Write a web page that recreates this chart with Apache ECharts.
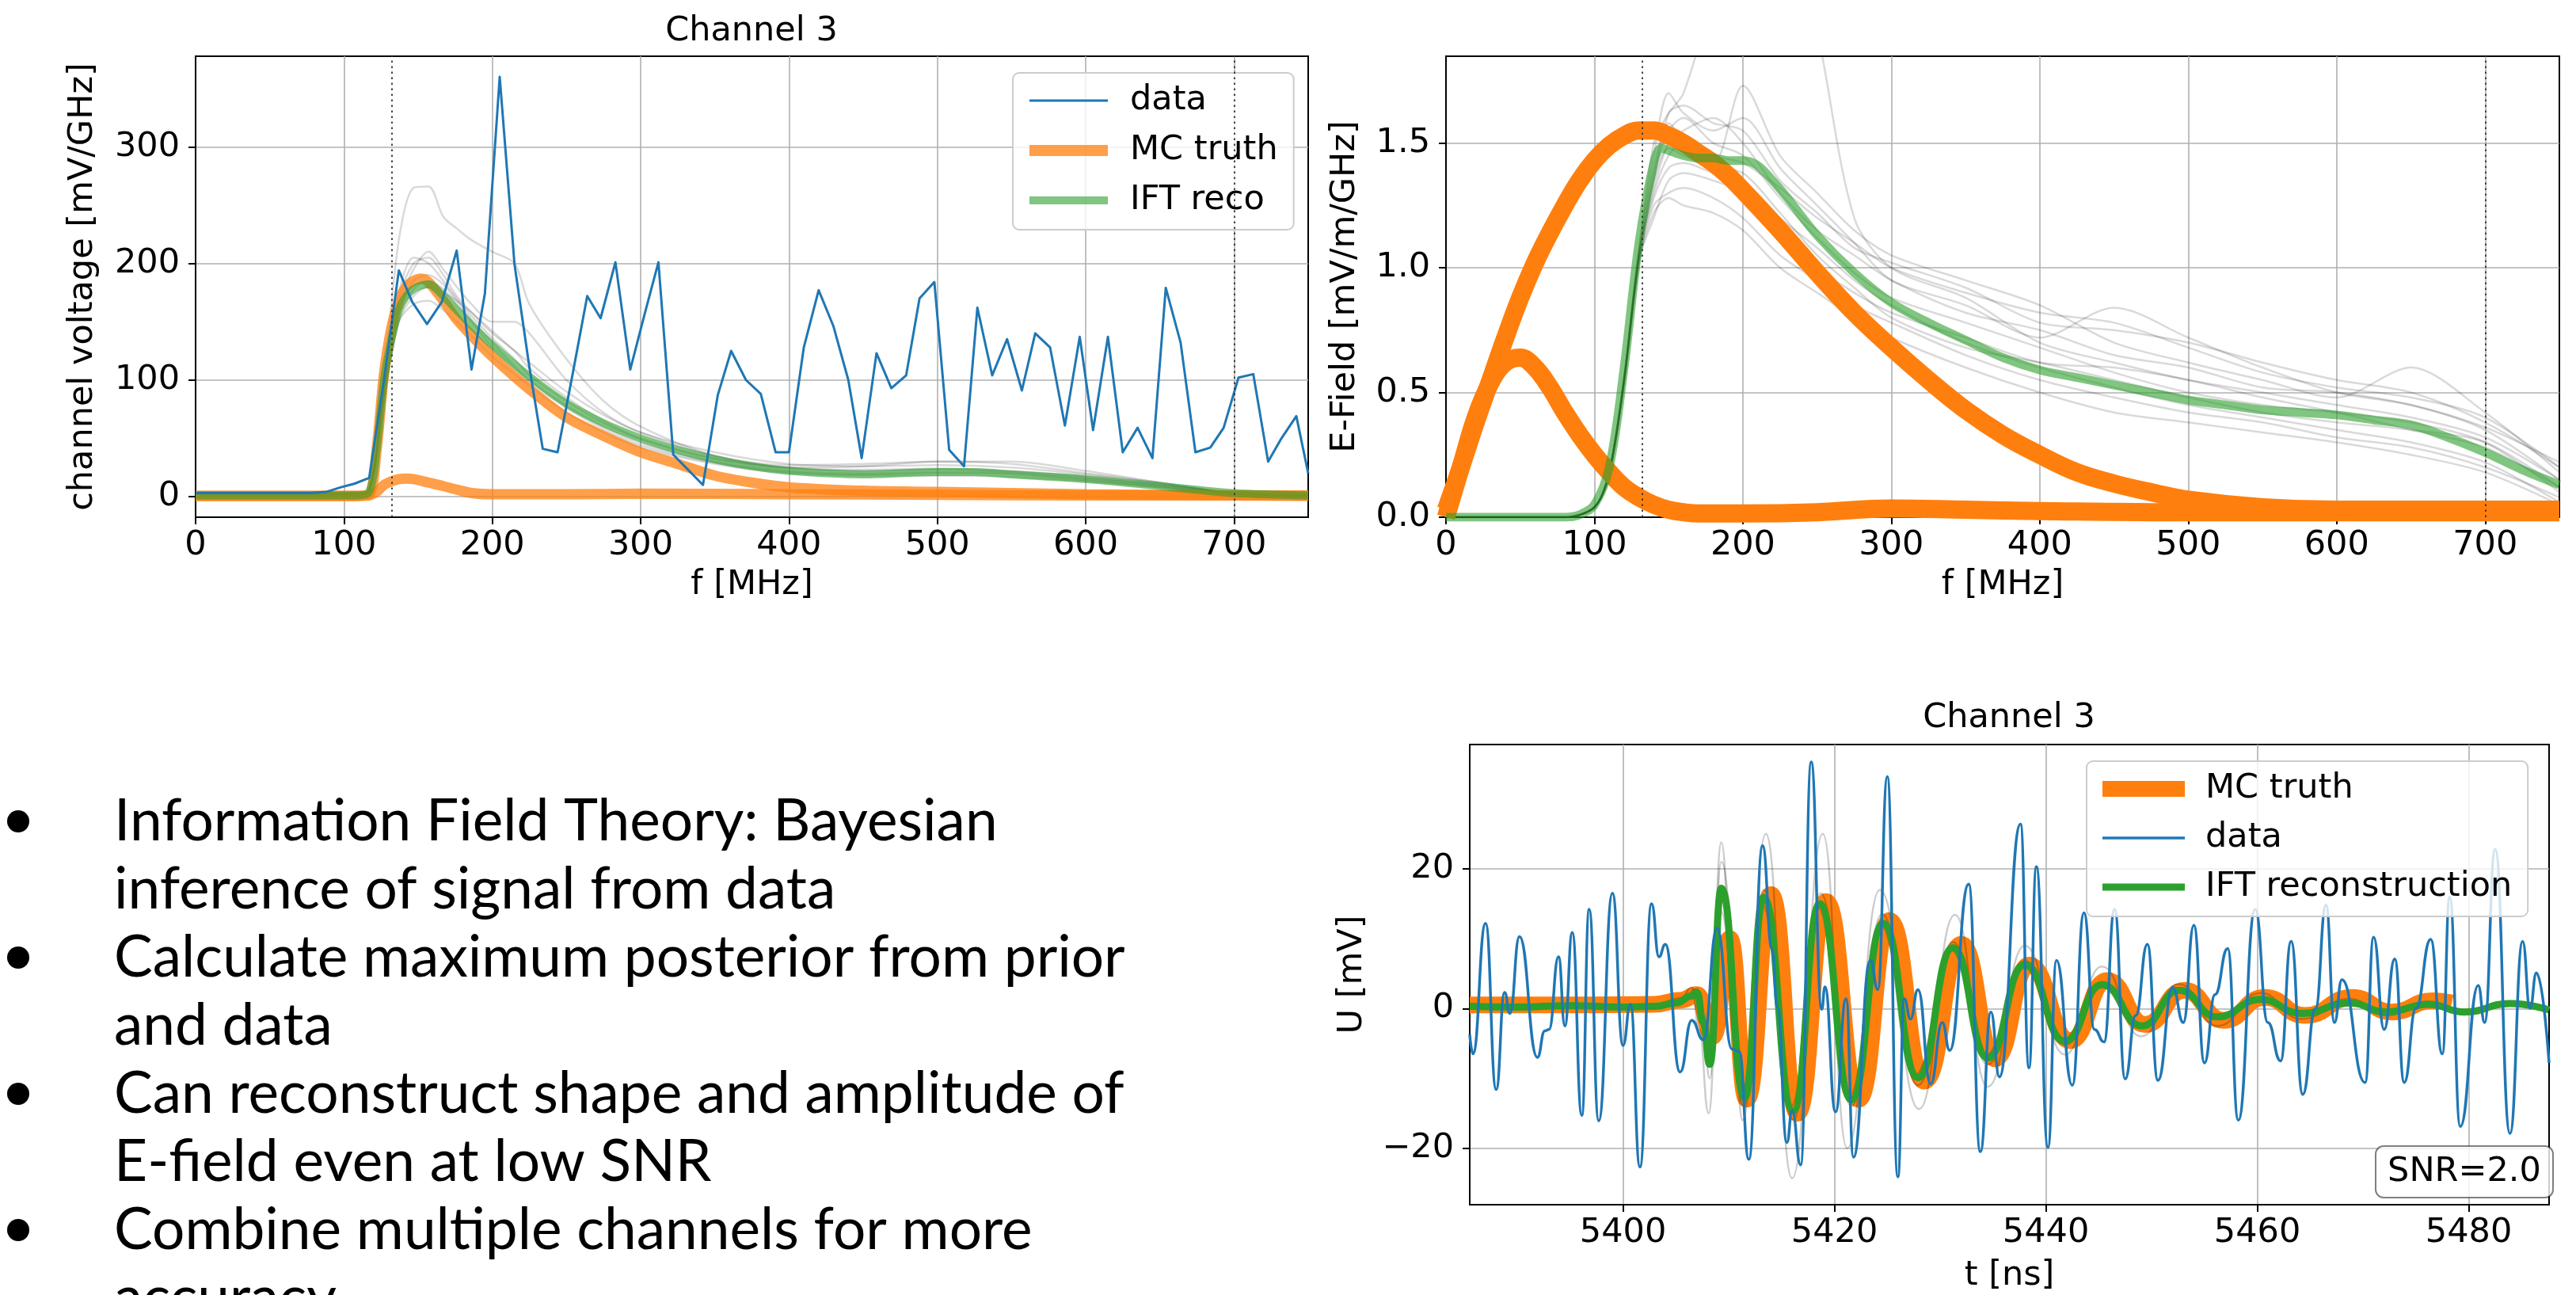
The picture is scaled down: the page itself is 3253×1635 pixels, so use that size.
<!DOCTYPE html>
<html>
<head>
<meta charset="utf-8">
<title>IFT reconstruction – Channel 3</title>
<script src="https://cdn.jsdelivr.net/npm/echarts@6/dist/echarts.min.js"></script>
<style>
  html, body { margin: 0; padding: 0; background: #ffffff; }
  #chart { width: 3253px; height: 1635px; }
</style>
</head>
<body>
<div id="chart"></div>
<script>
// ---------- frequency spectrum, channel voltage (top left) ----------
const fTicks = [0, 100, 200, 300, 400, 500, 600, 700];
const cutoffs = [132, 700];

const voltageTicks = [0, 100, 200, 300];
const spectrumF = [0, 10, 20, 29, 39, 49, 59, 68, 78, 88, 98, 107, 117, 127, 137, 146, 156, 166, 176, 186, 195, 205,
  215, 225, 234, 244, 254, 264, 273, 283, 293, 303, 312, 322, 332, 342, 352, 361, 371, 381, 391, 400, 410, 420, 430,
  440, 449, 459, 469, 479, 488, 498, 508, 518, 527, 537, 547, 557, 566, 576, 586, 596, 605, 615, 625, 635, 645, 654,
  664, 674, 684, 693, 703, 713, 723, 732, 742, 750];
const spectrumV = [3, 3, 3, 3, 3, 3, 3, 3, 3, 4, 8, 11, 16, 100, 194, 167, 148, 167, 211, 109, 174, 360,
  199, 111, 41, 38, 104, 172, 153, 201, 109, 158, 201, 36, 23, 10, 87, 125, 100, 88, 38, 38, 128, 177, 146,
  100, 33, 123, 93, 104, 170, 184, 40, 26, 162, 104, 135, 91, 140, 128, 61, 137, 57, 137, 38, 59, 33, 179,
  132, 38, 42, 59, 102, 105, 30, 50, 69, 20];

const voltTruthF = [0, 107, 117, 122, 127, 132, 137, 142, 147, 152, 157, 167, 176, 186, 200, 225, 250, 275, 300, 325,
  350, 375, 400, 450, 500, 600, 700, 750];
const voltTruthV = [0.7, 0.7, 2, 40, 105, 145, 168, 180, 185, 187, 184, 168, 152, 138, 120, 92, 68, 52, 38, 28,
  18, 12, 8, 5, 4, 2, 1, 0.5];
const voltTruthLowF = [0, 107, 117, 122, 127, 132, 137, 142, 147, 157, 167, 176, 186, 200, 250, 300, 400, 500, 600, 700, 750];
const voltTruthLowV = [0.5, 0.5, 1, 4, 10, 13, 15, 15.5, 15, 12, 9, 6, 3, 2, 2, 2.5, 2, 1.5, 1, 1, 1];

const voltRecoF = [0, 107, 117, 122, 127, 132, 137, 142, 147, 152, 157, 167, 176, 186, 200, 225, 250, 275, 300, 325,
  350, 375, 400, 450, 500, 525, 550, 600, 650, 700, 750];
const voltRecoV = [1, 1, 4, 40, 100, 135, 160, 172, 178, 181, 182, 172, 160, 147, 130, 103, 80, 63, 50, 40,
  32, 26, 22, 19, 21, 21, 19, 15, 9, 3, 1];

// posterior samples of the channel voltage spectrum
const voltSampleF = [0, 107, 117, 127, 137, 147, 157, 167, 176, 186, 200, 215, 225, 250, 275, 300, 350, 400, 450, 500, 550, 600, 650, 700, 750];
const voltSample1 = [2, 2, 5, 100, 220, 265, 266, 240, 230, 220, 210, 200, 165, 118, 82, 60, 35, 25, 26, 30, 30, 22, 12, 3, 1];
const voltSample2 = [2, 2, 5, 92, 170, 200, 205, 190, 172, 158, 140, 125, 110, 85, 65, 50, 33, 25, 23, 24, 22, 17, 10, 3, 1];
const voltSample3 = [2, 2, 5, 85, 150, 165, 168, 160, 150, 138, 120, 105, 95, 72, 55, 42, 28, 20, 18, 18, 17, 13, 8, 2, 1];
const voltSample4 = [2, 2, 5, 92, 165, 195, 210, 195, 180, 165, 150, 150, 140, 100, 72, 55, 35, 27, 28, 30, 28, 20, 12, 3, 1];
const voltSample5 = [2, 2, 5, 90, 160, 185, 190, 182, 168, 152, 132, 112, 100, 78, 60, 46, 30, 22, 20, 21, 20, 15, 9, 2, 1];
const voltSample6 = [2, 2, 5, 88, 155, 178, 185, 178, 165, 150, 128, 110, 98, 76, 58, 44, 29, 21, 19, 20, 19, 14, 8, 2, 1];
const voltSample7 = [2, 2, 5, 95, 175, 205, 200, 185, 170, 155, 136, 118, 104, 82, 63, 49, 32, 24, 22, 23, 21, 16, 10, 3, 1];
const voltSample8 = [2, 2, 5, 85, 150, 172, 180, 175, 168, 158, 142, 125, 115, 90, 70, 55, 38, 28, 26, 27, 25, 19, 11, 3, 1];

// ---------- E-field spectrum (top right) ----------
const efieldTicks = [0, 0.5, 1.0, 1.5];
const efTruthF = [0, 10, 20, 30, 40, 50, 60, 70, 80, 90, 100, 110, 120, 130, 140, 150, 160, 170, 180, 190, 200, 225,
  250, 275, 300, 325, 350, 375, 400, 425, 450, 475, 500, 550, 600, 650, 700, 750];
const efTruthV = [0.03, 0.2, 0.38, 0.55, 0.72, 0.88, 1.02, 1.14, 1.25, 1.35, 1.43, 1.49, 1.53, 1.55, 1.55, 1.53, 1.5,
  1.46, 1.42, 1.37, 1.31, 1.15, 0.98, 0.82, 0.68, 0.55, 0.43, 0.33, 0.25, 0.18, 0.135, 0.1, 0.07, 0.04, 0.03, 0.03, 0.03, 0.03];
const efTruthLowF = [0, 10, 20, 30, 40, 50, 60, 70, 80, 90, 100, 110, 120, 130, 140, 150, 160, 170, 180, 200, 250, 300,
  350, 400, 500, 600, 700, 750];
const efTruthLowV = [0, 0.2, 0.4, 0.54, 0.62, 0.64, 0.6, 0.52, 0.42, 0.33, 0.25, 0.18, 0.12, 0.08, 0.05, 0.03, 0.02,
  0.015, 0.015, 0.015, 0.02, 0.035, 0.03, 0.025, 0.02, 0.02, 0.02, 0.02];
const efRecoF = [0, 80, 90, 100, 110, 120, 130, 140, 145, 150, 160, 170, 180, 190, 200, 210, 220, 230, 250, 275, 300,
  325, 350, 375, 400, 425, 450, 475, 500, 525, 550, 575, 600, 625, 650, 675, 700, 725, 750];
const efRecoV = [0, 0, 0.01, 0.05, 0.2, 0.6, 1.1, 1.42, 1.48, 1.47, 1.45, 1.44, 1.44, 1.43, 1.43, 1.41, 1.35, 1.28,
  1.13, 0.98, 0.86, 0.78, 0.71, 0.64, 0.59, 0.56, 0.53, 0.5, 0.47, 0.45, 0.43, 0.42, 0.41, 0.39, 0.37, 0.32, 0.26, 0.19, 0.13];

// posterior samples of the E-field spectrum
const efSampleF = [0, 80, 100, 110, 120, 130, 140, 150, 160, 180, 200, 225, 250, 275, 300, 350, 400, 450, 500, 550, 600, 650, 700, 750];
const efSample1 = [0, 0, 0.04, 0.18, 0.55, 1.05, 1.35, 1.62, 1.65, 1.58, 1.55, 1.35, 1.22, 1.08, 1.02, 0.92, 0.78, 0.75, 0.70, 0.62, 0.55, 0.50, 0.38, 0.20];
const efSample2 = [0, 0, 0.04, 0.18, 0.56, 1.08, 1.45, 1.70, 1.62, 1.55, 1.60, 1.40, 1.25, 1.10, 0.95, 0.85, 0.72, 0.84, 0.72, 0.60, 0.50, 0.45, 0.35, 0.15];
const efSample3 = [0, 0, 0.04, 0.17, 0.54, 1.02, 1.25, 1.30, 1.32, 1.28, 1.20, 1.05, 0.95, 0.85, 0.78, 0.65, 0.55, 0.48, 0.42, 0.38, 0.32, 0.28, 0.20, 0.08];
const efSample4 = [0, 0, 0.04, 0.18, 0.55, 1.05, 1.30, 1.45, 1.50, 1.42, 1.73, 1.45, 1.30, 1.15, 1.05, 0.95, 0.85, 0.70, 0.62, 0.55, 0.48, 0.60, 0.42, 0.18];
const efSample5 = [0, 0, 0.04, 0.18, 0.55, 1.03, 1.20, 1.35, 1.38, 1.35, 1.30, 1.15, 1.00, 0.90, 0.82, 0.72, 0.62, 0.60, 0.55, 0.48, 0.42, 0.35, 0.28, 0.12];
const efSample6 = [0, 0, 0.04, 0.18, 0.55, 1.05, 1.38, 1.55, 1.60, 1.50, 1.45, 1.28, 1.12, 0.98, 0.88, 0.78, 0.68, 0.58, 0.50, 0.45, 0.42, 0.38, 0.30, 0.10];
const efSample7 = [0, 0, 0.04, 0.18, 0.55, 1.04, 1.28, 1.40, 1.42, 1.38, 1.35, 1.20, 1.08, 0.95, 0.85, 0.70, 0.60, 0.52, 0.45, 0.40, 0.35, 0.30, 0.22, 0.06];
const efSample8 = [0, 0, 0.04, 0.18, 0.56, 1.06, 1.50, 1.62, 1.70, 2.10, 2.60, 2.50, 1.95, 1.20, 1.00, 0.88, 0.70, 0.62, 0.55, 0.50, 0.45, 0.40, 0.32, 0.15];
const efSample9 = [0, 0, 0.04, 0.18, 0.55, 1.05, 1.32, 1.50, 1.55, 1.60, 1.50, 1.30, 1.15, 1.05, 0.95, 0.82, 0.75, 0.65, 0.60, 0.52, 0.50, 0.45, 0.36, 0.22];
const efSample10 = [0, 0, 0.04, 0.17, 0.54, 1.02, 1.22, 1.28, 1.25, 1.22, 1.15, 1.00, 0.90, 0.80, 0.72, 0.60, 0.50, 0.42, 0.38, 0.34, 0.30, 0.25, 0.18, 0.05];
const efSample11 = [0, 0, 0.04, 0.18, 0.56, 1.07, 1.40, 1.58, 1.52, 1.45, 1.42, 1.32, 1.20, 1.10, 1.00, 0.90, 0.82, 0.78, 0.68, 0.58, 0.52, 0.48, 0.40, 0.20];
const efSample12 = [0, 0, 0.04, 0.18, 0.55, 1.05, 1.35, 1.48, 1.45, 1.40, 1.38, 1.22, 1.05, 0.92, 0.80, 0.68, 0.62, 0.55, 0.48, 0.42, 0.38, 0.35, 0.30, 0.12];

// ---------- time trace (bottom right), [t ns, U mV] ----------
const tTicks = [5400, 5420, 5440, 5460, 5480];
const uTicks = [-20, 0, 20];
const traceData = [[5385.5, -3.7], [5385.8, -6.5], [5387.0, 12.2], [5388.0, -11.6], [5388.8, 2.3], [5389.3, -0.7],
  [5390.2, 10.3], [5391.9, -7.0], [5392.6, -3.2], [5393.0, -3.0], [5393.9, 7.4], [5394.5, -2.5], [5395.2, 10.9],
  [5396.1, -15.3], [5396.8, 14.2], [5397.7, -16.1], [5399.0, 16.5], [5400.0, -5.3], [5400.7, 0.6], [5401.6, -22.7],
  [5402.7, 15.0], [5403.4, 7.4], [5404.0, 9.2], [5405.4, -9.1], [5406.5, -1.7], [5407.6, -4.5], [5408.9, 11.5],
  [5410.3, -5.8], [5411.0, -6.2], [5411.9, -21.6], [5413.2, 23.3], [5414.1, 8.5], [5414.6, 0.1], [5415.5, -19.2],
  [5416.0, -14.6], [5416.8, -22.4], [5417.8, 35.3], [5418.8, -0.1], [5419.1, 3.1], [5420.1, -14.8], [5421.1, 1.4],
  [5421.8, -21.3], [5423.4, 6.9], [5424.1, 2.7], [5425.0, 33.2], [5426.0, -24.1], [5426.6, 1.4], [5427.2, -1.5],
  [5427.9, 2.7], [5429.1, -10.8], [5430.2, -2.0], [5430.9, -6.0], [5432.7, 17.8], [5433.8, -20.5], [5434.8, -0.5],
  [5435.6, -9.8], [5437.6, 26.4], [5438.4, -8.5], [5439.1, 20.3], [5440.2, -19.9], [5441.0, 6.9], [5442.5, -11.0],
  [5443.6, 13.7], [5444.6, -3.0], [5445.5, -4.8], [5446.5, 14.2], [5447.5, -10.1], [5448.5, -1.0], [5449.6, 9.2],
  [5450.6, -10.3], [5452.0, 3.0], [5453.0, -2.0], [5454.0, 11.9], [5455.0, -7.8], [5456.0, 2.0], [5457.2, 8.6],
  [5458.2, -16.0], [5459.8, 14.2], [5461.0, -2.0], [5462.2, -7.5], [5463.2, 9.6], [5464.3, -12.3], [5465.5, 0.0],
  [5466.5, 14.8], [5467.3, -2.0], [5468.0, 4.1], [5470.2, -10.6], [5471.0, 10.2], [5472.0, -3.0], [5473.0, 7.1],
  [5473.9, -10.6], [5475.0, 0.0], [5476.4, 9.9], [5477.5, -6.5], [5478.2, 16.0], [5479.2, -16.9], [5480.9, 3.3],
  [5481.5, -2.0], [5482.5, 22.8], [5483.9, -17.9], [5485.1, 9.6], [5485.8, 0.0], [5486.4, 5.1], [5487.6, -7.8]];

const traceTruth = [[5385.5, 0.5], [5395, 0.5], [5403, 0.6], [5405.5, 1.2], [5407, 2], [5408.5, -4], [5410.1, 10],
  [5411.7, -13], [5414.0, 16.3], [5416.5, -15], [5419.2, 15.3], [5422.3, -13], [5425.2, 12.6], [5428.5, -10.4],
  [5432.0, 9.2], [5435.2, -7.2], [5438.4, 6.2], [5442.3, -4.6], [5445.8, 4.0], [5449.4, -2.3], [5453.1, 2.6],
  [5456.8, -1.7], [5460.7, 1.6], [5464.5, -1.0], [5469.0, 1.6], [5472.7, -0.5], [5476.6, 1.1], [5478.4, 0.8]];

const traceReco = [[5385.5, 0.3], [5390, 0.2], [5395, 0.4], [5400, 0.2], [5403, 0.3], [5405, 0.8], [5406.5, 1.8],
  [5407.0, 2.3], [5407.6, -2], [5408.2, -8], [5409.3, 17.2], [5411.5, -12.8], [5413.3, 15.9], [5416.1, -14.7],
  [5418.6, 15.0], [5421.6, -13.1], [5424.6, 12.2], [5427.9, -9.9], [5431.2, 8.7], [5434.5, -7.1], [5438.0, 6.3],
  [5441.8, -4.7], [5445.3, 3.4], [5449.1, -2.5], [5452.6, 2.6], [5456.2, -1.2], [5460.3, 1.3], [5464.2, -0.7],
  [5468.7, 0.8], [5472.2, -0.5], [5476.2, 0.6], [5479.6, -0.5], [5483.9, 0.7], [5487.6, -0.2]];

// posterior samples of the time trace
const traceSample1 = [[5385.5, 0.3], [5403, 0.5], [5405.5, 1.5], [5406.5, 3], [5407.2, -3], [5408.1, -15], [5409.3, 23.8],
  [5410.5, -4], [5411.3, -16], [5413.5, 25], [5416.0, -24.3], [5418.9, 25], [5421.2, -20], [5424.3, 17], [5428, -14.4],
  [5431.4, 13.4], [5434.5, -11.2], [5438, 9], [5441.8, -6.6], [5445.3, 6], [5449, -4], [5452.6, 3.5], [5456.2, -2.5],
  [5460.3, 2.2], [5464.2, -1.5], [5468.7, 1.4], [5472.2, -1], [5476.2, 1], [5479.6, -0.7], [5483.9, 0.8], [5487.6, -0.3]];
const traceSample2 = [[5385.5, 0.3], [5403, 0.4], [5405.5, 1.2], [5407, 2.8], [5407.6, -3], [5408.2, -10], [5409.3, 21],
  [5411.4, -14], [5413.3, 17], [5416.1, -16], [5418.7, 16.5], [5421.6, -14], [5424.5, 13.5], [5427.9, -11], [5431.2, 9.5],
  [5434.5, -8], [5438.0, 6.8], [5441.8, -5.2], [5445.3, 3.8], [5449.1, -2.8], [5452.6, 2.8], [5456.2, -1.4], [5460.3, 1.4],
  [5464.2, -0.8], [5468.7, 0.9], [5472.2, -0.6], [5476.2, 0.7], [5479.6, -0.5], [5483.9, 0.7], [5487.6, -0.2]];
const traceSample3 = [[5385.5, 0.2], [5403, 0.3], [5405.5, 0.8], [5407, 2], [5407.6, -1], [5408.2, -6], [5409.2, 14],
  [5411.3, -12], [5413.1, 15], [5415.9, -14], [5418.4, 14.5], [5421.4, -12.5], [5424.3, 12], [5427.6, -9.5], [5431.0, 8.4],
  [5434.2, -6.8], [5437.8, 6], [5441.5, -4.5], [5445.0, 3.2], [5448.8, -2.4], [5452.4, 2.4], [5456.0, -1.1], [5460.0, 1.2],
  [5464.0, -0.7], [5468.5, 0.7], [5472.0, -0.5], [5476.0, 0.6], [5479.4, -0.5], [5483.6, 0.6], [5487.6, -0.2]];

const bullets = [
  ['Information Field Theory: Bayesian', 'inference of signal from data'],
  ['Calculate maximum posterior from prior', 'and data'],
  ['Can reconstruct shape and amplitude of', 'E-field even at low SNR'],
  ['Combine multiple channels for more', 'accuracy']
];

// ---------- styling ----------
const FONT = 'DejaVu Sans';
const FS = 43;
const BLUE = '#1f77b4', ORANGE = '#ff7f0e', GREEN = '#2ca02c';
const SAMPLE = 'rgba(0,0,0,0.15)';

function zip(xs, ys) { return xs.map((x, i) => [x, ys[i]]); }

function lineSeries(name, axisIdx, data, color, width, extra) {
  return Object.assign({
    type: 'line', name: name, xAxisIndex: axisIdx, yAxisIndex: axisIdx, data: data,
    symbol: 'none', showSymbol: false, silent: true, clip: true,
    lineStyle: { color: color, width: width, cap: 'butt', join: 'round' },
    itemStyle: { color: color },
    emphasis: { disabled: true }
  }, extra || {});
}

function valueAxis(gridIndex, min, max, ticks, fmt, labelMargin, name, nameGap, extra) {
  return Object.assign({
    type: 'value', gridIndex: gridIndex, min: min, max: max,
    axisLine: { show: true, onZero: false, lineStyle: { color: '#000', width: 2 } },
    axisTick: { show: true, length: 9, customValues: ticks, lineStyle: { color: '#000', width: 2 } },
    axisLabel: { show: true, customValues: ticks, color: '#000', fontFamily: FONT, fontSize: FS, margin: labelMargin,
      formatter: fmt },
    splitLine: { show: true, lineStyle: { color: '#b0b0b0', width: 1.6 } },
    name: name, nameLocation: 'middle', nameGap: nameGap,
    nameTextStyle: { color: '#000', fontFamily: FONT, fontSize: FS }
  }, extra || {});
}

const plain = v => (v < 0 ? '\u2212' + Math.abs(v) : String(v));
const oneDec = v => v.toFixed(1);

const dotted = {
  silent: true, symbol: 'none', label: { show: false },
  lineStyle: { type: [2.5, 4.5], color: '#333', width: 1.8 },
  emphasis: { disabled: true },
  data: cutoffs.map(c => ({ xAxis: c }))
};

const series = [
  // top left: samples underneath, truth and reconstruction drawn translucently above them
  ...[voltSample1, voltSample2, voltSample3, voltSample4, voltSample5, voltSample6, voltSample7, voltSample8].map((s, i) =>
    lineSeries('voltage sample ' + (i + 1), 0, zip(voltSampleF, s), SAMPLE, 2.5, { smooth: 0.3 })),
  lineSeries('MC truth', 0, zip(voltTruthF, voltTruthV), ORANGE, 13, { smooth: 0.3, lineStyle: { color: ORANGE, width: 13, opacity: 0.75 }, markLine: dotted }),
  lineSeries('MC truth, 2nd', 0, zip(voltTruthLowF, voltTruthLowV), ORANGE, 13, { smooth: 0.3, lineStyle: { color: ORANGE, width: 13, opacity: 0.75 } }),
  lineSeries('IFT reco', 0, zip(voltRecoF, voltRecoV), GREEN, 10, { smooth: 0.3, lineStyle: { color: GREEN, width: 10, opacity: 0.6 } }),
  lineSeries('data', 0, zip(spectrumF, spectrumV), BLUE, 3),

  // top right
  ...[efSample1, efSample2, efSample3, efSample4, efSample5, efSample6, efSample7, efSample8, efSample9, efSample10, efSample11, efSample12]
    .map((s, i) => lineSeries('E-field sample ' + (i + 1), 1, zip(efSampleF, s), SAMPLE, 2.5, { smooth: 0.3 })),
  lineSeries('E-field MC truth', 1, zip(efTruthF, efTruthV), ORANGE, 23, { smooth: 0.4, markLine: dotted }),
  lineSeries('E-field MC truth, 2nd', 1, zip(efTruthLowF, efTruthLowV), ORANGE, 23, { smooth: 0.4 }),
  lineSeries('E-field IFT reco', 1, zip(efRecoF, efRecoV), GREEN, 11, { smooth: 0.35, lineStyle: { color: GREEN, width: 11, opacity: 0.6 } }),

  // bottom
  lineSeries('MC truth', 2, traceTruth, ORANGE, 21, { smooth: 0.5, smoothMonotone: 'x' }),
  ...[traceSample1, traceSample2, traceSample3].map((s, i) =>
    lineSeries('trace sample ' + (i + 1), 2, s, 'rgba(0,0,0,0.2)', 2.5, { smooth: 0.5, smoothMonotone: 'x' })),
  lineSeries('IFT reconstruction', 2, traceReco, GREEN, 9, { smooth: 0.5, smoothMonotone: 'x' }),
  lineSeries('data', 2, traceData, BLUE, 3.5, { smooth: 0.5, smoothMonotone: 'x' })
];

const legendBase = {
  orient: 'vertical', selectedMode: false, itemHeight: 20,
  itemStyle: { opacity: 0 },
  backgroundColor: 'rgba(255,255,255,0.8)', borderColor: '#cccccc', borderWidth: 2, borderRadius: 8,
  textStyle: { fontFamily: FONT, fontSize: FS, color: '#000', lineHeight: 44 }
};

const graphic = [
  { type: 'text', x: 949, y: 40, z: 100, style: { text: 'Channel 3', font: FS + 'px "' + FONT + '"', fill: '#000', align: 'center', verticalAlign: 'middle' } },
  { type: 'text', x: 2537, y: 907, z: 100, style: { text: 'Channel 3', font: FS + 'px "' + FONT + '"', fill: '#000', align: 'center', verticalAlign: 'middle' } },
  { type: 'rect', z: 100, shape: { x: 3000, y: 1447, width: 224, height: 65, r: 10 },
    style: { fill: 'rgba(255,255,255,0.8)', stroke: 'rgba(0,0,0,0.5)', lineWidth: 2 } },
  { type: 'text', x: 3112, y: 1480, z: 101, style: { text: 'SNR=2.0', font: FS + 'px "' + FONT + '"', fill: '#000', align: 'center', verticalAlign: 'middle' } }
];

// bullet list
const lineY0 = 1037, lineStep = 86;
bullets.forEach((pair, i) => {
  const y = lineY0 + i * 2 * lineStep;
  graphic.push({ type: 'circle', z: 100, shape: { cx: 23, cy: y, r: 14 }, style: { fill: '#000' } });
  pair.forEach((txt, j) => {
    graphic.push({ type: 'text', x: 144, y: y + j * lineStep, z: 100,
      style: { text: txt, font: '73px Lato', fill: '#000', align: 'left', verticalAlign: 'middle' } });
  });
});

const option = {
  animation: false,
  backgroundColor: '#ffffff',
  grid: [
    { left: 247, top: 71, width: 1405, height: 582, show: true, borderColor: '#000', borderWidth: 2, backgroundColor: 'transparent' },
    { left: 1826, top: 71, width: 1406, height: 582, show: true, borderColor: '#000', borderWidth: 2, backgroundColor: 'transparent' },
    { left: 1856, top: 940, width: 1363, height: 581, show: true, borderColor: '#000', borderWidth: 2, backgroundColor: 'transparent' }
  ],
  xAxis: [
    valueAxis(0, 0, 750, fTicks, plain, 14, 'f [MHz]', 64, { interval: 100 }),
    valueAxis(1, 0, 750, fTicks, plain, 14, 'f [MHz]', 64, { interval: 100 }),
    valueAxis(2, 5385.5, 5487.6, tTicks, plain, 14, 't [ns]', 68, { splitNumber: 5 })
  ],
  yAxis: [
    valueAxis(0, -17.7, 377.7, voltageTicks, plain, 20, 'channel voltage [mV/GHz]', 121, { splitNumber: 4 }),
    valueAxis(1, 0, 1.848, efieldTicks, oneDec, 20, 'E-Field [mV/m/GHz]', 106, { splitNumber: 4 }),
    valueAxis(2, -28.1, 37.8, uTicks, plain, 20, 'U [mV]', 127, { splitNumber: 3 })
  ],
  legend: [
    Object.assign({}, legendBase, {
      left: 1279, top: 92, padding: [13, 20, 15, 14], itemWidth: 99, itemGap: 19,
      textStyle: Object.assign({}, legendBase.textStyle, { padding: [0, 0, 0, 23] }),
      data: [
        { name: 'data', lineStyle: { width: 3, opacity: 1 } },
        { name: 'MC truth', lineStyle: { width: 14, opacity: 0.75 } },
        { name: 'IFT reco', lineStyle: { width: 10, opacity: 0.6 } }
      ]
    }),
    Object.assign({}, legendBase, {
      left: 2635, top: 961, padding: [13, 20, 15, 10], itemWidth: 104, itemGap: 18,
      textStyle: Object.assign({}, legendBase.textStyle, { padding: [0, 0, 0, 21] }),
      data: [
        { name: 'MC truth', lineStyle: { width: 20, opacity: 1 } },
        { name: 'data', lineStyle: { width: 3.5, opacity: 1 } },
        { name: 'IFT reconstruction', lineStyle: { width: 9, opacity: 1 } }
      ]
    })
  ],
  series: series,
  graphic: graphic
};

const chart = echarts.init(document.getElementById('chart'), null, { renderer: 'canvas' });
chart.setOption(option);
</script>
</body>
</html>
